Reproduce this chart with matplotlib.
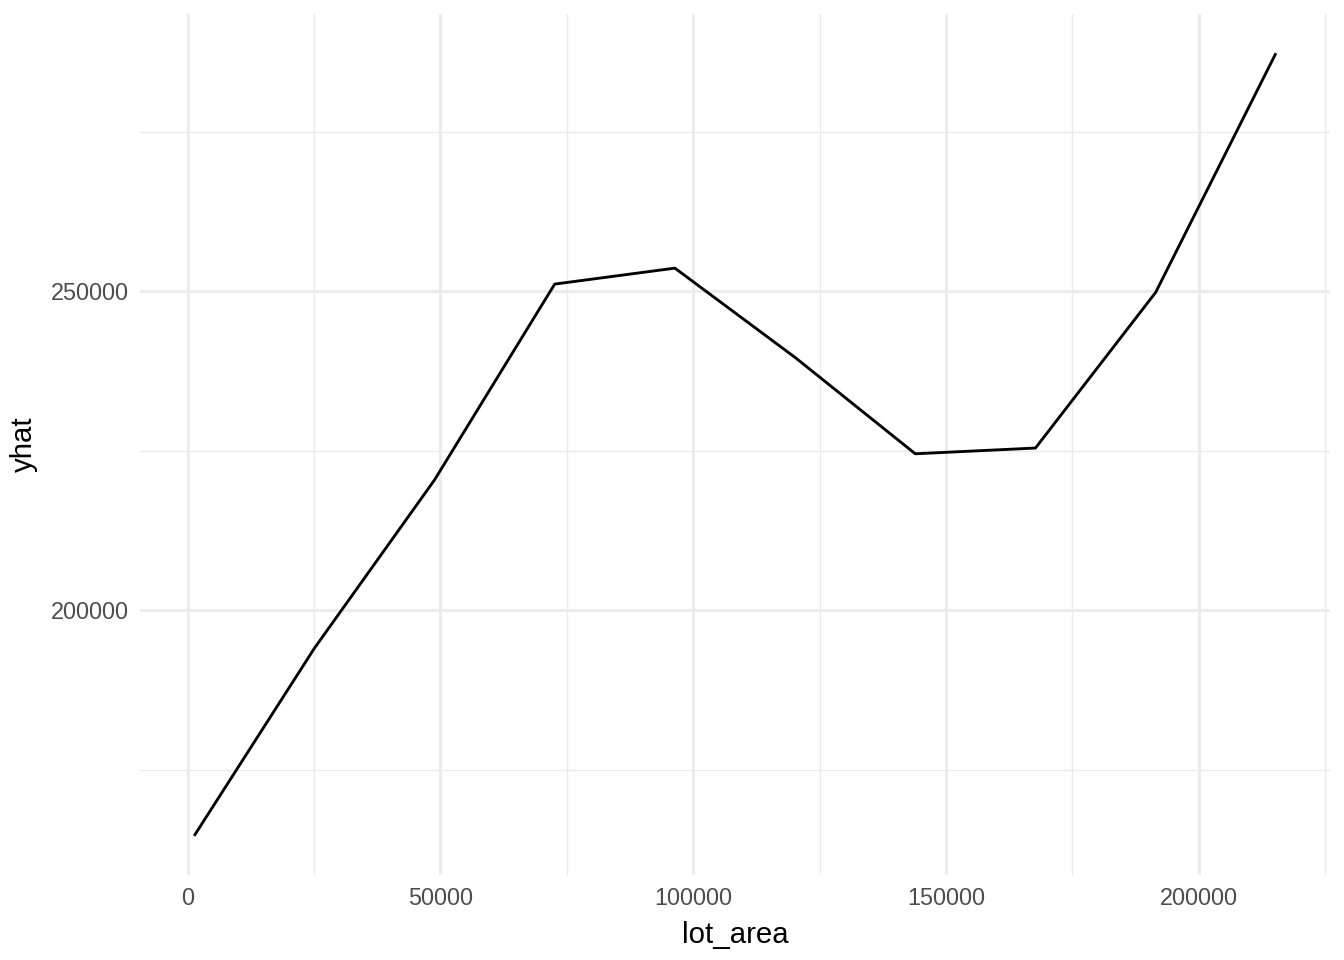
import numpy as np
import matplotlib
matplotlib.use("Agg")
import matplotlib.pyplot as plt
from matplotlib.ticker import MultipleLocator

plt.rcParams['font.family'] = ['Liberation Sans', 'DejaVu Sans']

# partial dependence values
lot_area = [1300, 25070, 48840, 72610, 96380, 120150, 143920, 167690, 191460, 215245]
yhat = [164600, 194000, 220400, 251100, 253600, 239600, 224500, 225400, 249800, 287300]

fig = plt.figure(figsize=(7, 5), dpi=192)
ax = fig.add_axes([0.1042, 0.0885, 0.8854, 0.8969])

ax.plot(lot_area, yhat, color='black', lw=1.07, solid_capstyle='butt', zorder=3)

# ggplot-like expansion of 5%
xr = max(lot_area) - min(lot_area)
yr = max(yhat) - min(yhat)
ax.set_xlim(min(lot_area) - 0.05 * xr, max(lot_area) + 0.05 * xr)
ax.set_ylim(min(yhat) - 0.05 * yr, max(yhat) + 0.05 * yr)

ax.xaxis.set_major_locator(MultipleLocator(50000))
ax.xaxis.set_minor_locator(MultipleLocator(25000))
ax.yaxis.set_major_locator(MultipleLocator(50000))
ax.yaxis.set_minor_locator(MultipleLocator(25000))
ax.grid(which='major', color='#EBEBEB', lw=1.07)
ax.grid(which='minor', color='#EBEBEB', lw=0.53)
ax.set_axisbelow(True)

for s in ax.spines.values():
    s.set_visible(False)
ax.tick_params(which='both', length=0)
ax.tick_params(axis='both', labelsize=8.8, labelcolor='#4D4D4D')
ax.tick_params(axis='x', pad=4.5)
ax.tick_params(axis='y', pad=4.2)
ax.xaxis.set_major_formatter(plt.FuncFormatter(lambda v, p: f"{int(v)}"))
ax.yaxis.set_major_formatter(plt.FuncFormatter(lambda v, p: f"{int(v)}"))

ax.set_xlabel('lot_area', fontsize=11, labelpad=4)
ax.set_ylabel('yhat', fontsize=11, labelpad=5)

fig.savefig('out.png', dpi=192)
